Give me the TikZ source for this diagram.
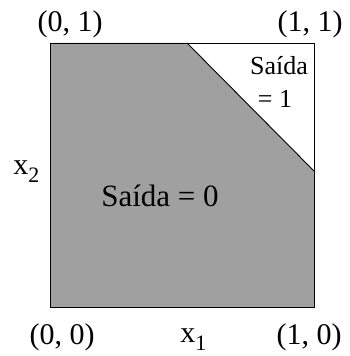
\documentclass[tikz,border=0pt]{standalone}
\usepackage{fontspec}
\setmainfont{Liberation Serif}
\usetikzlibrary{positioning}
\definecolor{cregion}{HTML}{A0A0A0}
\tikzset{
  every picture/.style={line width=0.9pt},
  corner/.style={font=\fontsize{30}{32}\selectfont, anchor=base, inner sep=0pt},
  region/.style={font=\fontsize{#1}{34}\selectfont, anchor=base, inner sep=0pt, align=center},
  region/.default=31,
}
\newcommand{\lowidx}[1]{\raisebox{-8pt}{\fontsize{22}{24}\selectfont #1}}

\begin{document}
\begin{tikzpicture}[x=1pt, y=1pt]
  \useasboundingbox (0,0) rectangle (350,356);
  % unit square and the two regions
  \coordinate (o) at (50,49);
  \coordinate (e) at (314,49);
  \coordinate (f) at (314,313);
  \coordinate (g) at (50,313);
  \coordinate (cuttop) at (187,313);
  \coordinate (cutright) at (314,185);
  \fill[cregion] (o) -- (e) -- (cutright) -- (cuttop) -- (g) -- cycle;
  \draw (cuttop) -- (cutright);
  \draw (o) rectangle (f);
  % corner labels
  \node[corner] (c01) at (70,324) {(0, 1)};
  \node[corner] (c11) at (310,324) {(1, 1)};
  \node[corner] (c00) at (62,11) {(0, 0)};
  \node[corner] (c10) at (309,11) {(1, 0)};
  % axes
  \node[corner, anchor=base west] (x1) at (180,13) {x\lowidx{1}};
  \node[corner, anchor=base west] (x2) at (13,181) {x\lowidx{2}};
  % outputs
  \node[region] (out0) at (160,149) {Saída = 0};
  \node[region=26] (out1a) at (279,281) {Saída};
  \node[region=26] (out1b) at (275,248) {= 1};
\end{tikzpicture}
\end{document}
